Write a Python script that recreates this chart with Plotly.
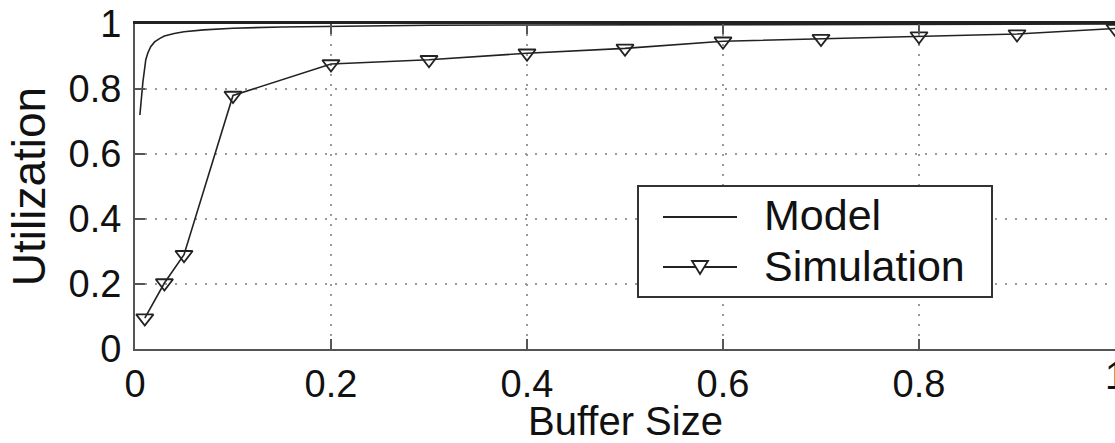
import plotly.graph_objects as go

# Analytical model curve
model_x = [0.005, 0.008, 0.011, 0.013, 0.016, 0.02, 0.025, 0.03, 0.04, 0.05,
           0.07, 0.1, 0.15, 0.2, 0.3, 0.4, 0.6, 0.8, 1.0]
model_y = [0.72, 0.82, 0.89, 0.91, 0.93, 0.945, 0.955, 0.963, 0.971, 0.976,
           0.982, 0.987, 0.991, 0.993, 0.996, 0.997, 0.998, 0.999, 1.0]

# Simulation results
sim_x = [0.01, 0.03, 0.05, 0.1, 0.2, 0.3, 0.4, 0.5, 0.6, 0.7, 0.8, 0.9, 1.0]
sim_y = [0.095, 0.203, 0.29, 0.78, 0.877, 0.89, 0.91, 0.925, 0.947, 0.955,
         0.963, 0.969, 0.986]

tick_vals = [0, 0.2, 0.4, 0.6, 0.8, 1]
tick_text = ["0", "0.2", "0.4", "0.6", "0.8", "1"]

FONT = "Liberation Sans, Arial, sans-serif"
INK = "#222222"
AXIS = "#555555"
TXT = "#111111"
TICK_SIZE = 38

fig = go.Figure()
fig.add_trace(go.Scatter(x=model_x, y=model_y, mode="lines", name="Model",
                         line=dict(color=INK, width=1.6), showlegend=False))
fig.add_trace(go.Scatter(x=sim_x, y=sim_y, mode="lines+markers", name="Simulation",
                         line=dict(color=INK, width=1.6),
                         marker=dict(symbol="triangle-down-open", size=15,
                                     color=INK, line=dict(width=1.8, color=INK)),
                         showlegend=False, cliponaxis=False))
# dummy trace so the mirrored top axis is drawn
fig.add_trace(go.Scatter(x=[], y=[], xaxis="x2", showlegend=False))

axis_common = dict(range=[0, 1], tickvals=tick_vals, ticktext=tick_text,
                   showline=True, linecolor=AXIS, linewidth=2,
                   ticks="inside", ticklen=10, tickwidth=2, tickcolor=AXIS,
                   zeroline=False, automargin=False,
                   showgrid=True, gridcolor="#9a9a9a", griddash="2px,8px",
                   gridwidth=2,
                   tickfont=dict(family=FONT, size=TICK_SIZE, color=TXT))

fig.update_layout(
    width=1115, height=443,
    margin=dict(l=135, r=0, t=24, b=94),
    paper_bgcolor="white", plot_bgcolor="white",
    xaxis=dict(**axis_common),
    xaxis2=dict(overlaying="x", side="top", matches="x", range=[0, 1],
                tickvals=tick_vals, showticklabels=False, automargin=False,
                showline=True, linecolor="#222222", linewidth=3,
                ticks="inside", ticklen=10, tickwidth=2, tickcolor=AXIS,
                showgrid=False, zeroline=False),
    yaxis=dict(**axis_common,
               ticklabelstandoff=4,
               title=dict(text="Utilization", standoff=8,
                          font=dict(family=FONT, size=46, color=TXT))),
    showlegend=False,
)

# x-axis title, placed below the tick labels
fig.add_annotation(text="Buffer Size", xref="paper", yref="paper",
                   x=0.5, y=0, yanchor="top", yshift=-48,
                   showarrow=False, font=dict(family=FONT, size=40, color=TXT))

# last x tick label sits on the right edge of the figure
fig.add_annotation(text=tick_text[-1], xref="x", yref="paper",
                   x=tick_vals[-1], y=0, yanchor="top", yshift=-4,
                   showarrow=False, font=dict(family=FONT, size=TICK_SIZE, color=TXT))

# Legend drawn by hand
lx0, lx1, ly0, ly1 = 638, 992, 186, 297
def px(x):
    return (x - 135) / 980.0
def py(y):
    return (349 - y) / 325.0

fig.add_shape(type="rect", xref="paper", yref="paper",
              x0=px(lx0), x1=px(lx1), y0=py(ly1), y1=py(ly0),
              line=dict(color="#333333", width=2), fillcolor="white", layer="above")
for yy in (217, 267):
    fig.add_shape(type="line", xref="paper", yref="paper",
                  x0=px(663), x1=px(737), y0=py(yy), y1=py(yy),
                  line=dict(color=INK, width=1.8), layer="above")
# legend marker (open down-triangle)
fig.add_shape(type="path", xref="paper", yref="paper",
              xsizemode="pixel", ysizemode="pixel",
              xanchor=px(700), yanchor=py(267),
              path="M -8,6 L 8,6 L 0,-7 Z",
              line=dict(color=INK, width=1.8), fillcolor="white", layer="above")
for txt, yy in (("Model", 215), ("Simulation", 266)):
    fig.add_annotation(text=txt, xref="paper", yref="paper",
                       x=px(762), y=py(yy), xanchor="left", yanchor="middle",
                       showarrow=False,
                       font=dict(family=FONT, size=43, color=TXT))

fig.write_html("out.html")
